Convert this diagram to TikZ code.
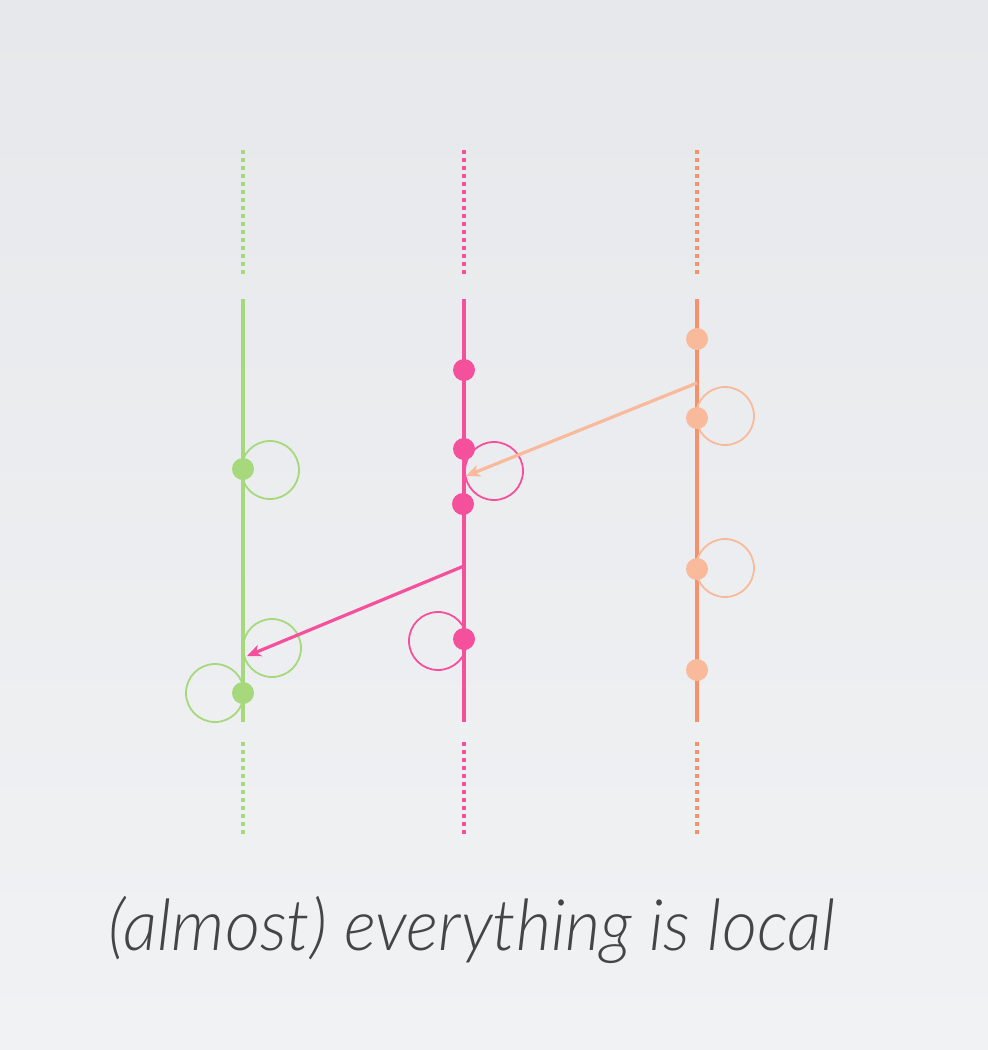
\documentclass[tikz,border=0pt]{standalone}
\usepackage{fontspec}
\setmainfont{Lato}
\newfontfamily\capfont{Lato Light Italic}
\usetikzlibrary{arrows.meta}
\definecolor{bgA}{HTML}{E6E8EB}
\definecolor{bgB}{HTML}{F1F2F4}
\definecolor{cgreen}{HTML}{A6D87C}
\definecolor{cpink}{HTML}{F5509B}
\definecolor{corange}{HTML}{F8916A}
\definecolor{corlight}{HTML}{F9B99B}
\definecolor{ctext}{HTML}{454547}
\tikzset{
  x=1pt,y=-1pt,
  timeline/.style={line width=3.6pt},
  dotline/.style={line width=3.6pt, dash pattern=on 3.6pt off 4.4pt},
  evt/.style={circle, inner sep=0pt, minimum size=22pt},
  loopc/.style={circle, draw, line width=1.8pt, inner sep=0pt, minimum size=58pt},
  msg/.style={line width=3.2pt, -{Stealth[length=14pt,width=12pt,inset=4pt]}},
}
\begin{document}
\begin{tikzpicture}
\shade[top color=bgA, bottom color=bgB] (0,0) rectangle (988,1050);
\useasboundingbox (0,0) rectangle (988,1050);
% timelines
\foreach \x/\c in {243/cgreen,464/cpink,697/corange}{
  \draw[dotline,\c] (\x,150) -- (\x,276);
  \draw[timeline,\c] (\x,299) -- (\x,722);
  \draw[dotline,\c] (\x,742) -- (\x,834);
}
% loop circles
\node[loopc, draw=cgreen] (gl1) at (270,470) {};
\node[loopc, draw=cgreen] (gl2) at (272,648) {};
\node[loopc, draw=cgreen] (gl3) at (215,693) {};
\node[loopc, draw=cpink] (pl1) at (494,471) {};
\node[loopc, draw=cpink] (pl2) at (438,641) {};
\node[loopc, draw=corlight] (ol1) at (725,416) {};
\node[loopc, draw=corlight] (ol2) at (725,568) {};
% events
\node[evt, fill=cgreen] (g1) at (243,469) {};
\node[evt, fill=cgreen] (g2) at (243,693) {};
\node[evt, fill=cpink] (p1) at (464,370) {};
\node[evt, fill=cpink] (p2) at (464,449) {};
\node[evt, fill=cpink] (p3) at (463,504) {};
\node[evt, fill=cpink] (p4) at (464,639) {};
\node[evt, fill=corlight] (o1) at (697,339) {};
\node[evt, fill=corlight] (o2) at (697,418) {};
\node[evt, fill=corlight] (o3) at (697,569) {};
\node[evt, fill=corlight] (o4) at (697,670) {};
% messages
\coordinate (os) at (697,383);
\coordinate (pr) at (466,476);
\coordinate (ps) at (464,566);
\coordinate (gr) at (247,656);
\draw[msg, corlight] (os) -- (pr);
\draw[msg, cpink] (ps) -- (gr);
% caption
\node[text=ctext, font=\fontsize{71}{80}\capfont, anchor=base, xscale=0.96] (cap) at (472,950) {(almost) everything is local};
\end{tikzpicture}
\end{document}
